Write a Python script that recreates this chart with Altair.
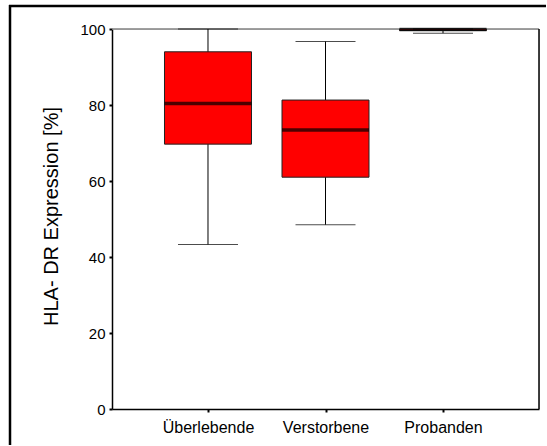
import altair as alt
import pandas as pd

groups = ["Überlebende", "Verstorbene", "Probanden"]
lower = [43.3, 48.5, 98.9]
q1 = [69.7, 61.0, 99.6]
median = [80.4, 73.4, 99.9]
q3 = [94.0, 81.3, 100.0]
upper = [100.0, 96.7, 100.0]
y_ticks = [0, 20, 40, 60, 80, 100]
y_title = "HLA- DR Expression [%]"

df = pd.DataFrame({"group": groups, "lower": lower, "q1": q1,
                   "median": median, "q3": q3, "upper": upper})
one = pd.DataFrame({"a": [0]})

W, H = 427, 380
FONT = "Liberation Sans"

x_enc = alt.X("group:N", sort=groups,
              scale=alt.Scale(type="point", padding=0.817),
              axis=alt.Axis(title=None, labelFontSize=16, labelFont=FONT, labelColor="black",
                            labelAngle=0, labelPadding=7, tickSize=3, tickWidth=2,
                            tickColor="black", domainColor="black", domainWidth=1.5))

y_axis = alt.Axis(values=y_ticks, grid=False, title=y_title, titleFontSize=20,
                  titleFontWeight="normal", titleFont=FONT, titleColor="black",
                  titleX=-55, titleY=H / 2 - 3, titleAngle=270, titleAlign="center",
                  titleBaseline="alphabetic",
                  labelFontSize=15, labelFont=FONT, labelColor="black", labelPadding=4,
                  tickSize=3, tickWidth=2, tickColor="black",
                  domainColor="black", domainWidth=1.5)
y_scale = alt.Scale(domain=[0, 100], nice=False, zero=True)


def Y(field):
    return alt.Y(f"{field}:Q", scale=y_scale, axis=y_axis, title=y_title)


base = alt.Chart(df).encode(x=x_enc)

frame_left = alt.Chart(one).mark_rule(color="black", strokeWidth=2.5).encode(
    x=alt.value(-102), y=alt.value(-24), y2=alt.value(416))
frame_top = alt.Chart(one).mark_rule(color="black", strokeWidth=2.5).encode(
    x=alt.value(-103), x2=alt.value(434), y=alt.value(-23))
top_line = alt.Chart(one).mark_rule(color="#808080", strokeWidth=1.5).encode(
    x=alt.value(0), x2=alt.value(W), y=alt.value(0))
right_line = alt.Chart(one).mark_rule(color="black", strokeWidth=1.5).encode(
    x=alt.value(W), y=alt.value(0), y2=alt.value(H))

whisker = base.mark_rule(color="black", strokeWidth=1).encode(y=Y("lower"), y2="upper:Q")
box = base.mark_bar(size=87, color="#ff0000", stroke="#222222", strokeWidth=1).encode(
    y=Y("q1"), y2="q3:Q")
med = base.mark_tick(size=87, thickness=3.5, color="black").encode(y=Y("median"))
cap_lo = base.mark_tick(size=60, thickness=1, color="black").encode(y=Y("lower"))
cap_hi = base.mark_tick(size=60, thickness=1, color="black").encode(y=Y("upper"))

chart = alt.layer(frame_left, frame_top, top_line, right_line,
                  whisker, box, med, cap_lo, cap_hi).properties(
    width=W, height=H,
    padding={"left": 112, "top": 29, "right": 8, "bottom": 37},
    autosize=alt.AutoSizeParams(type="none"),
).configure_view(strokeOpacity=0).configure(background="white")

chart.save("out.html", embed_options={"renderer": "svg", "actions": False})
